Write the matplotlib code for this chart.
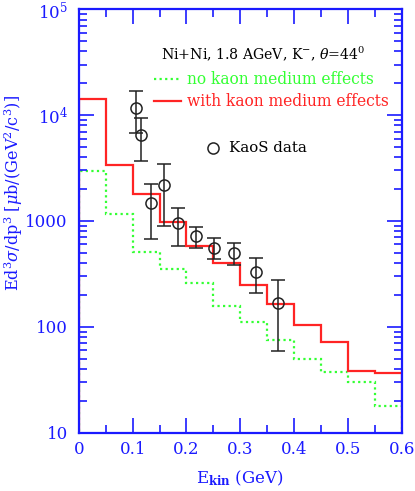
import matplotlib
matplotlib.use("Agg")
import matplotlib.pyplot as plt
from matplotlib.ticker import FixedLocator, LogLocator, NullFormatter, FixedFormatter
import numpy as np

# Histogram bin edges (GeV)
bin_edges = [0.0, 0.05, 0.10, 0.15, 0.20, 0.25, 0.30, 0.35, 0.40, 0.45, 0.50, 0.55, 0.60]
# with kaon medium effects
red_vals = [14100, 3410, 1790, 980, 580, 403, 248, 164, 103, 72.2, 38.4, 36.3]
# no kaon medium effects
green_vals = [2970, 1165, 513, 352, 258, 158, 110, 74.5, 49.6, 37.6, 30.2, 17.9]

# KaoS data
kaos_x = [0.106, 0.115, 0.134, 0.159, 0.185, 0.217, 0.252, 0.288, 0.329, 0.3695]
kaos_y = [11800, 6550, 1470, 2190, 964, 721, 560, 502, 327, 167]
kaos_hi = [16900, 9420, 2240, 3460, 1320, 883, 686, 615, 450, 277]
kaos_lo = [6840, 3715, 676, 904, 584, 552, 434, 384, 207, 59]

xticks = [0, 0.1, 0.2, 0.3, 0.4, 0.5, 0.6]
xticklabels = ["0", "0.1", "0.2", "0.3", "0.4", "0.5", "0.6"]
yticks = [10, 100, 1000, 1e4, 1e5]
yticklabels = ["10", "100", "1000", r"10$^4$", r"10$^5$"]

BLUE = "#1a1aff"
RED = "#ff2424"
GREEN = "#33ff33"
BLACK = "#222222"

plt.rcParams['font.family'] = ['DejaVu Serif']
plt.rcParams['mathtext.fontset'] = 'dejavuserif'

fig = plt.figure(figsize=(4.15, 4.91), dpi=100)
ax = fig.add_axes([0.190, 0.119, 0.778, 0.862])

ax.stairs(green_vals, bin_edges, color=GREEN, lw=1.6, ls=(0, (1, 1.5)))
ax.stairs(red_vals, bin_edges, color=RED, lw=1.6)

ky = np.array(kaos_y)
yerr = [ky - np.array(kaos_lo), np.array(kaos_hi) - ky]
ax.errorbar(kaos_x, kaos_y, yerr=yerr, fmt='o', mfc='none', mec=BLACK, ecolor=BLACK,
            ms=8, mew=1.1, elinewidth=1.1, capsize=5, capthick=1.1)

ax.set_yscale('log')
ax.set_xlim(0, 0.6)
ax.set_ylim(10, 1e5)

ax.xaxis.set_major_locator(FixedLocator(xticks))
ax.xaxis.set_major_formatter(FixedFormatter(xticklabels))
ax.xaxis.set_minor_locator(FixedLocator([0.05, 0.15, 0.25, 0.35, 0.45, 0.55]))
ax.yaxis.set_major_locator(FixedLocator(yticks))
ax.yaxis.set_major_formatter(FixedFormatter(yticklabels))
ax.yaxis.set_minor_locator(LogLocator(base=10, subs=np.arange(2, 10)))
ax.yaxis.set_minor_formatter(NullFormatter())

ax.tick_params(which='both', direction='in', top=True, right=True, colors=BLUE,
               labelsize=12, width=1.2)
ax.tick_params(which='major', length=11)
ax.tick_params(axis='x', which='major', pad=6)
ax.tick_params(axis='y', which='major', pad=8)
ax.tick_params(which='minor', length=6)
for s in ax.spines.values():
    s.set_color(BLUE)
    s.set_linewidth(1.6)

ax.text(0.5, -0.1076, r"E$_{\mathbf{kin}}$ (GeV)", transform=ax.transAxes, color=BLUE,
        fontsize=12, ha='center', va='center')
ax.text(-0.203, 0.566, r"Ed$^3\sigma$/dp$^3$ [$\mu$b/(GeV$^2$/c$^3$)]", transform=ax.transAxes,
        color=BLUE, fontsize=11.6, rotation=90, ha='center', va='center')

ax.text(0.570, 0.895, r"Ni+Ni, 1.8 AGeV, K$^{-}$, $\theta$=44$^0$", transform=ax.transAxes,
        ha='center', va='center', fontsize=10.2, color='black')

# legend (manual)
x0, x1 = 0.233, 0.316
ax.plot([x0, x1], [0.835, 0.835], transform=ax.transAxes, color=GREEN, lw=1.6, ls=(0, (1, 1.5)))
ax.text(0.335, 0.835, "no kaon medium effects", transform=ax.transAxes, ha='left', va='center',
        fontsize=11.2, color=GREEN)
ax.plot([x0, x1], [0.783, 0.783], transform=ax.transAxes, color=RED, lw=1.6)
ax.text(0.335, 0.783, "with kaon medium effects", transform=ax.transAxes, ha='left', va='center',
        fontsize=11.2, color=RED)
ax.plot([0.415], [0.6735], transform=ax.transAxes, marker='o', ms=8, mfc='none', mec=BLACK, mew=1.1)
ax.text(0.465, 0.6735, "KaoS data", transform=ax.transAxes, ha='left', va='center',
        fontsize=10.8, color='black')

fig.savefig("out.png", dpi=100)
